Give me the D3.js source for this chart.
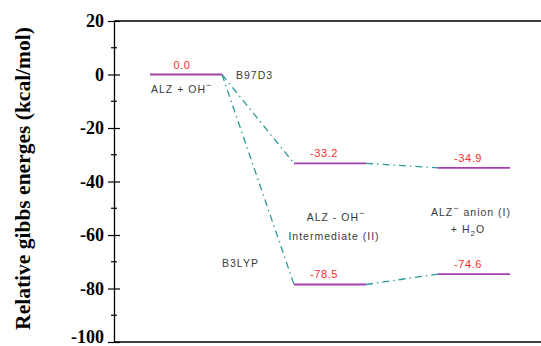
<!DOCTYPE html>
<html>
<head>
<meta charset="utf-8">
<script src="https://cdn.jsdelivr.net/npm/d3@7"></script>
<style>
  html, body { margin: 0; padding: 0; background: #fff; }
  svg { display: block; }
</style>
</head>
<body>
<svg id="chart" width="541" height="346"></svg>
<script>
// Reaction steps along the energy profile
const states = ["reactant", "intermediate", "product"];
// Relative Gibbs energies (kcal/mol) for each functional
const b97d3 = [0.0, -33.2, -34.9];
const b3lyp = [0.0, -78.5, -74.6];
const methods = ["B97D3", "B3LYP"];
// Y axis ticks
const yTicks = [20, 0, -20, -40, -60, -80, -100];
const yMinorTicks = [10, -10, -30, -50, -70, -90];

const svg = d3.select("#chart");

const y = d3.scaleLinear().domain([-100, 20]).range([342, 21]);
const x = d3.scaleBand().domain(states).range([150, 510]).paddingInner(0.5);

// plain hyphen-minus formatting
const fmtInt = d => String(d);
const fmtVal = d => d.toFixed(1);

const axisX = 114;
const purple = "#a33fae";
const teal = "#2b9a98";
const red = "#ff2a2a";
const gray = "#3a3a3a";

// Frame: top and bottom rules
svg.append("line").attr("x1", axisX).attr("x2", 541)
  .attr("y1", y(20)).attr("y2", y(20)).attr("stroke", "#000").attr("stroke-width", 1.3);
svg.append("line").attr("x1", axisX).attr("x2", 541)
  .attr("y1", y(-100)).attr("y2", y(-100)).attr("stroke", "#000").attr("stroke-width", 1.3);

// Left axis with major ticks crossing the line
const yAxis = d3.axisLeft(y).tickValues(yTicks).tickSize(0).tickPadding(10)
  .tickFormat(fmtInt);
const gy = svg.append("g").attr("transform", `translate(${axisX},0)`).call(yAxis);
gy.select(".domain").attr("stroke", "#000").attr("stroke-width", 1.3);
gy.selectAll(".tick text")
  .attr("font-family", "'Liberation Serif', 'Times New Roman', serif")
  .attr("font-weight", "bold").attr("font-size", 18).attr("fill", "#000")
  .attr("dy", d => d === -100 ? "0.05em" : "0.32em");
gy.selectAll(".tick").append("line")
  .attr("x1", -6).attr("x2", 6).attr("stroke", "#000").attr("stroke-width", 1.2);
gy.selectAll(".minor").data(yMinorTicks).enter().append("line")
  .attr("class", "minor")
  .attr("x1", -3).attr("x2", 3)
  .attr("y1", d => y(d)).attr("y2", d => y(d))
  .attr("stroke", "#000").attr("stroke-width", 1.2);

// Axis title
svg.append("text")
  .attr("transform", `translate(30,${(y(20) + y(-100)) / 2 - 3}) rotate(-90)`)
  .attr("text-anchor", "middle")
  .attr("font-family", "'Liberation Serif', 'Times New Roman', serif")
  .attr("font-weight", "bold").attr("font-size", 21.5).attr("fill", "#000")
  .text("Relative gibbs energes (kcal/mol)");

// Dash-dot connectors between consecutive levels
[b97d3, b3lyp].forEach(series => {
  for (let i = 0; i < states.length - 1; i++) {
    svg.append("line")
      .attr("x1", x(states[i]) + x.bandwidth())
      .attr("y1", y(series[i]))
      .attr("x2", x(states[i + 1]))
      .attr("y2", y(series[i + 1]))
      .attr("stroke", teal).attr("stroke-width", 1.3)
      .attr("stroke-dasharray", "7,4,1.5,4");
  }
});

// Energy levels
const levels = [];
[b97d3, b3lyp].forEach((series, m) => {
  series.forEach((v, i) => {
    if (m === 1 && i === 0) return; // shared reactant level
    levels.push({ state: states[i], value: v });
  });
});

svg.selectAll(".level").data(levels).enter().append("line")
  .attr("class", "level")
  .attr("x1", d => x(d.state))
  .attr("x2", d => x(d.state) + x.bandwidth())
  .attr("y1", d => y(d.value)).attr("y2", d => y(d.value))
  .attr("stroke", purple).attr("stroke-width", 1.8);

// Value labels
svg.selectAll(".val").data(levels).enter().append("text")
  .attr("class", "val")
  .attr("x", d => x(d.state) + x.bandwidth() / 2 - (d.value === 0 ? 4 : 6))
  .attr("y", d => y(d.value) - 6)
  .attr("text-anchor", "middle")
  .attr("font-family", "'Liberation Sans', Arial, sans-serif")
  .attr("font-size", 11).attr("letter-spacing", 0.6).attr("fill", red)
  .text(d => fmtVal(d.value));

// Descriptive labels
const labelFont = "'Liberation Sans', Arial, sans-serif";
function label(tx, ty, parts, anchor) {
  const t = svg.append("text").attr("x", tx).attr("y", ty)
    .attr("text-anchor", anchor || "start")
    .attr("font-family", labelFont).attr("font-size", 10.5)
    .attr("letter-spacing", 1).attr("fill", gray);
  parts.forEach(p => {
    const s = t.append("tspan").text(p.t);
    if (p.sup) s.attr("dy", -5).attr("font-size", 9);
    if (p.sub) s.attr("dy", 3).attr("font-size", 8);
    if (p.back) s.attr("dy", p.back);
  });
  return t;
}

label(151, 93, [{ t: "ALZ + OH" }, { t: "\u2212", sup: true }]);
label(x(states[0]) + x.bandwidth() + 14, 79, [{ t: methods[0] }]);
label(222, 267, [{ t: methods[1] }]);
label(x(states[1]) + x.bandwidth() / 2 + 6, 221,
  [{ t: "ALZ - OH" }, { t: "\u2212", sup: true }], "middle");
label(x(states[1]) + x.bandwidth() / 2 + 4, 240, [{ t: "Intermediate (II)" }], "middle");
label(x(states[2]) + x.bandwidth() / 2 - 3, 216,
  [{ t: "ALZ" }, { t: "\u2212", sup: true }, { t: " anion (I)", back: 5 }], "middle");
label(x(states[2]) + x.bandwidth() / 2 - 6, 233,
  [{ t: "+ H" }, { t: "2", sub: true }, { t: "O", back: -3 }], "middle");
</script>
</body>
</html>
